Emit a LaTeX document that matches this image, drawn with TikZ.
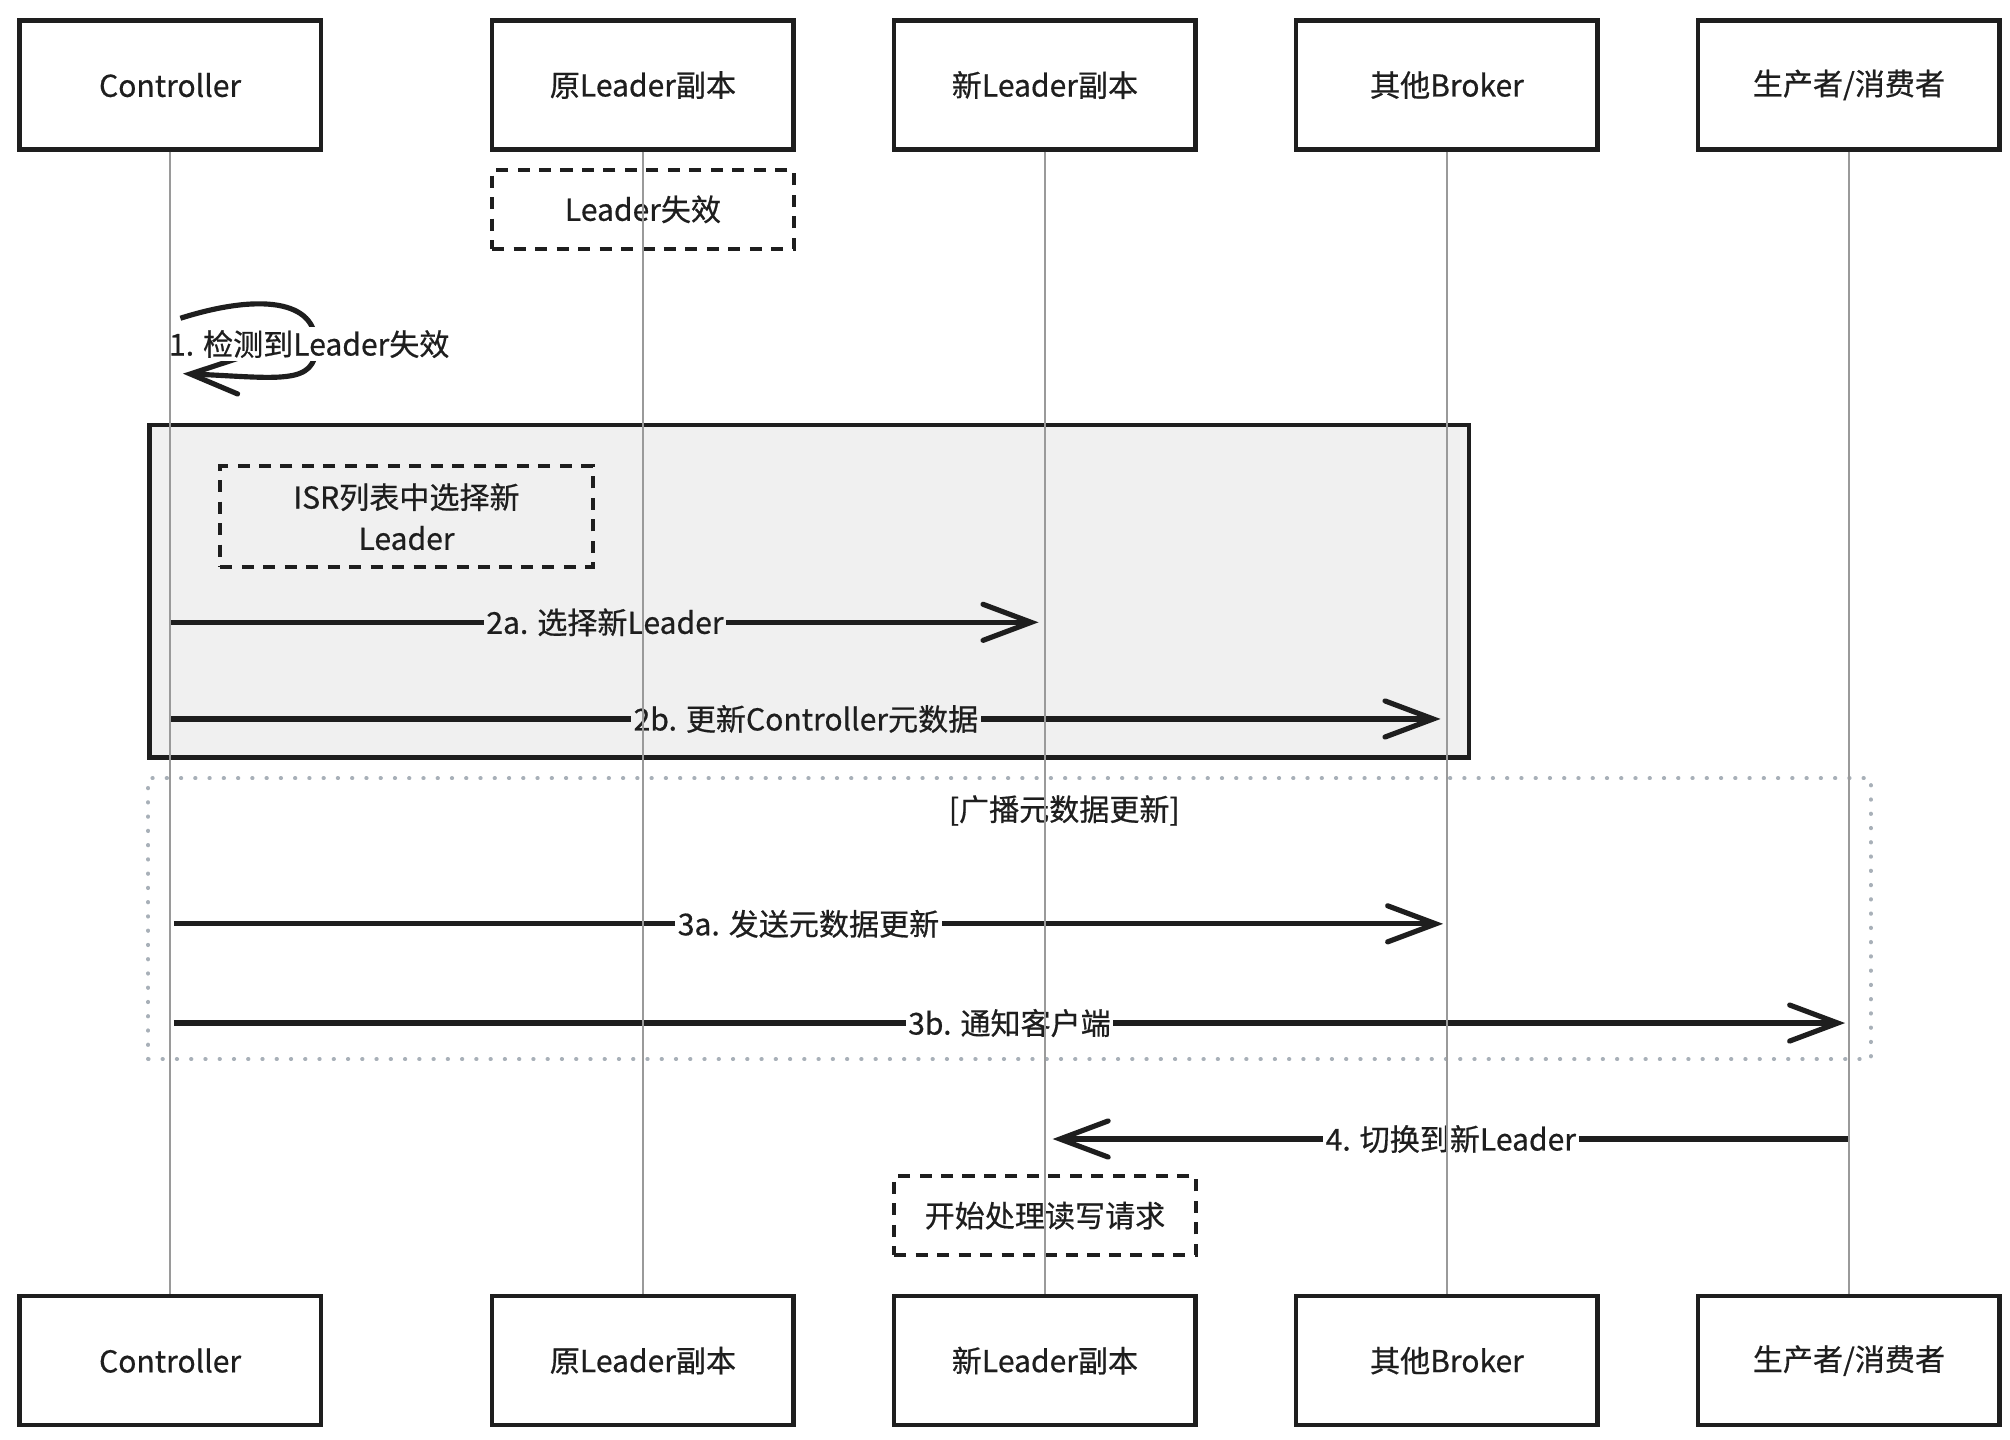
\documentclass[tikz,border=0pt]{standalone}
\usepackage{fontspec}
\setmainfont{Noto Sans CJK SC}[UprightFeatures={FakeBold=0.6}]
\usetikzlibrary{arrows.meta}
\definecolor{boxgray}{HTML}{F0F0F0}
\definecolor{lifegray}{HTML}{9A9A9A}
\definecolor{dotgray}{HTML}{A8B0B8}
\definecolor{ink}{HTML}{1E1E1E}
\begin{document}
\begin{tikzpicture}[x=0.75pt,y=-0.75pt,
  txt/.style={font=\fontsize{17.5}{24}\selectfont, text=ink},
  actor/.style={txt, draw=ink, line width=2.6pt, fill=white, minimum width=175.5pt, minimum height=75pt, inner sep=0pt},
  note/.style={txt, draw=ink, line width=2.4pt, dash pattern=on 7pt off 5.5pt, minimum width=175.5pt, minimum height=45.75pt, inner sep=0pt, align=center},
  frame/.style={draw=ink, line width=2.6pt, fill=boxgray, inner sep=0pt},
  dotframe/.style={draw=dotgray, line width=2.2pt, line cap=round, dash pattern=on 0.3pt off 8pt, inner sep=0pt},
  msg/.style={draw=ink, line width=3pt, -{Straight Barb[length=28pt,width=21pt,line cap=round]}},
  lbl/.style={txt, fill=white, inner sep=1.5pt},
  glbl/.style={txt, fill=boxgray, inner sep=1.5pt},
  life/.style={draw=lifegray, line width=0.8pt}]
\useasboundingbox (0,0) rectangle (1560,1117.6);

% frames
\node[frame, minimum width=768pt, minimum height=193.5pt] (grp) at (628,459) {};
\node[dotframe, minimum width=1002.75pt, minimum height=163.5pt] (loop) at (783.5,713) {};
\node[txt] (looplbl) at (826,629) {[广播元数据更新]};

% actors
\node[actor] (t1) at (132,66) {Controller};
\node[actor] (t2) at (499,66) {原Leader副本};
\node[actor] (t3) at (811,66) {新Leader副本};
\node[actor] (t4) at (1123,66) {其他Broker};
\node[actor] (t5) at (1435,66) {生产者/消费者};
\node[actor] (b1) at (132,1056) {Controller};
\node[actor] (b2) at (499,1056) {原Leader副本};
\node[actor] (b3) at (811,1056) {新Leader副本};
\node[actor] (b4) at (1123,1056) {其他Broker};
\node[actor] (b5) at (1435,1056) {生产者/消费者};

% notes
\node[note] (n1) at (499,162.5) {Leader失效};
\node[note, minimum width=216.75pt, minimum height=58.5pt] (n2) at (315.5,401) {ISR列表中选择新\\Leader};
\node[note] (n3) at (811,943.5) {开始处理读写请求};

% coordinates on lifelines
\coordinate (s1) at (140,247);
\coordinate (s2) at (142,290);
\coordinate (c2a) at (133,483);
\coordinate (d2a) at (806,483);
\coordinate (c2b) at (133,558);
\coordinate (d2b) at (1118,558);
\coordinate (c3a) at (135,717);
\coordinate (d3a) at (1120,717);
\coordinate (c3b) at (135,794);
\coordinate (d3b) at (1432,794);
\coordinate (c4) at (1435,884);
\coordinate (d4) at (817,884);

% messages
\draw[msg] (s1) .. controls (200,228) and (246,232) .. (245,268)
  .. controls (246,300) and (215,293) .. (s2);
\node[lbl] (m1) at (240,267) {1. 检测到Leader失效};
\draw[msg] (c2a) -- node[glbl] (m2a) {2a. 选择新Leader} (d2a);
\draw[msg] (c2b) -- node[glbl] (m2b) {2b. 更新Controller元数据} (d2b);
\draw[msg] (c3a) -- node[lbl] (m3a) {3a. 发送元数据更新} (d3a);
\draw[msg] (c3b) -- node[lbl] (m3b) {3b. 通知客户端} (d3b);
\draw[msg] (c4) -- node[lbl] (m4) {4. 切换到新Leader} (d4);

% lifelines on top
\draw[life] (t1.south) -- (b1.north);
\draw[life] (t2.south) -- (b2.north);
\draw[life] (t3.south) -- (b3.north);
\draw[life] (t4.south) -- (b4.north);
\draw[life] (t5.south) -- (b5.north);
\end{tikzpicture}
\end{document}
